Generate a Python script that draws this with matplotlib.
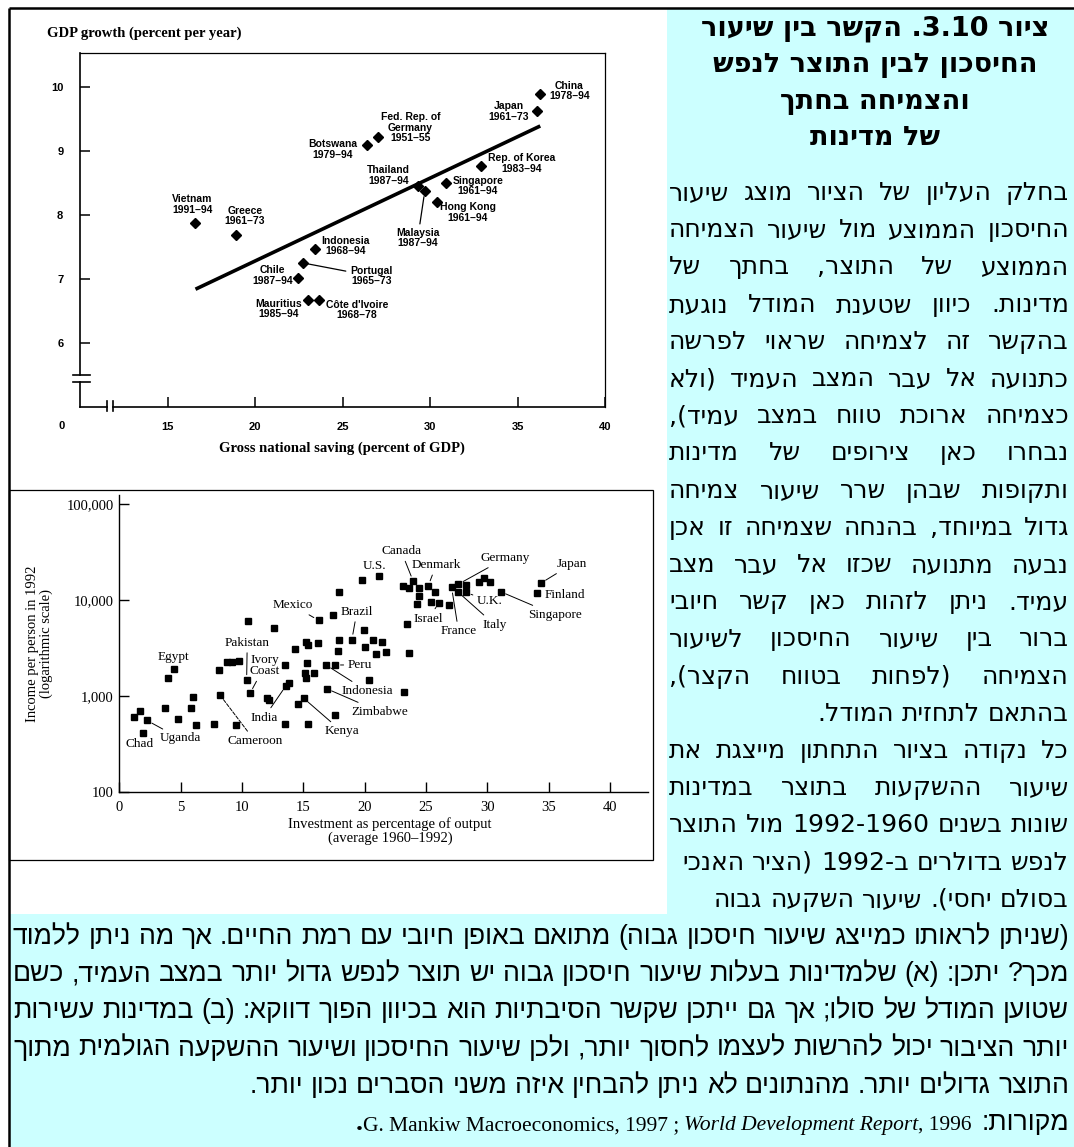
import re
import matplotlib
matplotlib.use("Agg")
import matplotlib.pyplot as plt
import matplotlib.ticker as mticker
from matplotlib.patches import Rectangle
from matplotlib.font_manager import FontProperties

# ---------------------------------------------------------------- data
# Upper chart: gross national saving (% of GDP) vs GDP growth (% per year)
saving_names = ["China\n1978–94", "Japan\n1961–73", "Fed. Rep. of\nGermany\n1951–55",
                "Botswana\n1979–94", "Thailand\n1987–94", "Malaysia\n1987–94",
                "Singapore\n1961–94", "Rep. of Korea\n1983–94", "Hong Kong\n1961–94",
                "Indonesia\n1968–94", "Portugal\n1965–73", "Chile\n1987–94",
                "Mauritius\n1985–94", "Côte d'Ivoire\n1968–78", "Vietnam\n1991–94",
                "Greece\n1961–73"]
saving_rate = [36.3, 36.1, 27.0, 26.4, 29.3, 29.7, 30.9, 32.9, 30.4,
               23.45, 22.75, 22.45, 23.0, 23.65, 16.55, 18.9]
gdp_growth = [9.89, 9.63, 9.22, 9.10, 8.46, 8.37, 8.50, 8.77, 8.21,
              7.47, 7.25, 7.02, 6.67, 6.67, 7.88, 7.69]
fit_saving = [16.6, 36.3]
fit_growth = [6.84, 9.39]
saving_xticks = [15, 20, 25, 30, 35, 40]
growth_yticks = [6, 7, 8, 9, 10]

# Lower chart: investment share (% of output, 1960-92) vs income per person 1992
named_countries = ["Chad", "Uganda", "Egypt", "Cameroon", "Pakistan", "Ivory\nCoast",
                   "India", "Kenya", "Mexico", "Brazil", "Peru", "Indonesia",
                   "Zimbabwe", "U.S.", "Canada", "Denmark", "Germany", "Japan",
                   "Finland", "U.K.", "Singapore", "Israel", "France", "Italy"]
named_invest = [1.9, 2.26, 4.43, 8.21, 10.38, 10.65, 13.59, 15.05, 16.25, 18.96,
                17.58, 16.85, 16.9, 21.19, 23.96, 25.18, 27.63, 34.37, 34.07,
                28.25, 31.08, 26.08, 27.09, 27.58]
named_income = [410, 560, 1920, 1030, 1470, 1070, 1290, 950, 6180, 3890,
                2120, 2120, 1200, 17700, 15800, 14100, 14700, 15100, 11800,
                12100, 12300, 9450, 13600, 12300]
other_invest = [1.22, 1.69, 3.72, 4.0, 4.78, 5.84, 6.03, 6.25, 7.74, 8.13, 8.75,
                9.18, 9.54, 9.78, 10.46, 12.01, 12.17, 13.8, 12.6, 13.5, 13.5,
                14.29, 14.54, 15.19, 15.41, 15.33, 15.13, 15.22, 15.87, 15.41,
                16.22, 17.44, 17.9, 17.58, 20.38, 23.23, 17.85, 17.93, 19.97,
                20.02, 20.65, 20.92, 21.41, 21.74, 23.64, 23.42, 19.75, 23.1,
                23.64, 24.43, 24.43, 24.3, 25.73, 25.4, 26.87, 28.25, 29.35,
                29.72, 30.2]
other_income = [610, 710, 760, 1540, 580, 750, 980, 500, 510, 1860, 2290,
                2290, 500, 2340, 6100, 950, 910, 1380, 5140, 510, 2130,
                3100, 830, 3710, 3390, 2200, 1740, 1560, 1740, 520,
                3560, 7040, 12300, 640, 1480, 1100, 2990, 3890, 4890,
                3240, 3890, 2760, 3640, 2880, 2800, 5620, 16200, 14200,
                13300, 13300, 11100, 9120, 12300, 9660, 8920, 14500, 15500,
                17000, 15500]
invest_xticks = [0, 5, 10, 15, 20, 25, 30, 35, 40]
income_yticks = [100, 1000, 10000, 100000]

# Hebrew caption (logical order); "J" = justified line, "R" = flush right
title_lines = ["ציור 3.10. הקשר בין שיעור", "החיסכון לבין התוצר לנפש",
               "והצמיחה בחתך", "של מדינות"]
side_lines = [
    ("בחלק העליון של הציור מוצג שיעור", "J"),
    ("החיסכון הממוצע מול שיעור הצמיחה", "J"),
    ("הממוצע של התוצר, בחתך של", "J"),
    ("מדינות. כיוון שטענת המודל נוגעת", "J"),
    ("בהקשר זה לצמיחה שראוי לפרשה", "J"),
    ("כתנועה אל עבר המצב העמיד (ולא", "J"),
    ("כצמיחה ארוכת טווח במצב עמיד),", "J"),
    ("נבחרו כאן צירופים של מדינות", "J"),
    ("ותקופות שבהן שרר שיעור צמיחה", "J"),
    ("גדול במיוחד, בהנחה שצמיחה זו אכן", "J"),
    ("נבעה מתנועה שכזו אל עבר מצב", "J"),
    ("עמיד. ניתן לזהות כאן קשר חיובי", "J"),
    ("ברור בין שיעור החיסכון לשיעור", "J"),
    ("הצמיחה (לפחות בטווח הקצר),", "J"),
    ("בהתאם לתחזית המודל.", "R"),
    ("כל נקודה בציור התחתון מייצגת את", "J"),
    ("שיעור ההשקעות בתוצר במדינות", "J"),
    ("שונות בשנים 1960-1992 מול התוצר", "J"),
    ("לנפש בדולרים ב-1992 (הציר האנכי", "R"),
    ("בסולם יחסי). שיעור השקעה גבוה", "R"),
]
bottom_lines = [
    ("(שניתן לראותו כמייצג שיעור חיסכון גבוה) מתואם באופן חיובי עם רמת החיים. אך מה ניתן ללמוד", "J"),
    ("מכך? יתכן: (א) שלמדינות בעלות שיעור חיסכון גבוה יש תוצר לנפש גדול יותר במצב העמיד, כשם", "J"),
    ("שטוען המודל של סולו; אך גם ייתכן שקשר הסיבתיות הוא בכיוון הפוך דווקא: (ב) במדינות עשירות", "J"),
    ("יותר הציבור יכול להרשות לעצמו לחסוך יותר, ולכן שיעור החיסכון ושיעור ההשקעה הגולמית מתוך", "J"),
    ("התוצר גדולים יותר. מהנתונים לא ניתן להבחין איזה משני הסברים נכון יותר.", "R"),
]
sources_label = "מקורות:"
source_parts = [(", 1996 ", "normal"), ("World Development Report", "italic"),
                ("G. Mankiw Macroeconomics, 1997 ; ", "normal")]

# ---------------------------------------------------------------- layout
W, H, DPI = 1074, 1147, 100
CYAN = "#CCFFFF"
fig = plt.figure(figsize=(W / DPI, H / DPI), dpi=DPI)
fig.patch.set_facecolor("white")


def px_rect(x0, y0, x1, y1):
    """Pixel box (top-left origin) -> figure fraction rect."""
    return [x0 / W, 1 - y1 / H, (x1 - x0) / W, (y1 - y0) / H]


bg = fig.add_axes([0, 0, 1, 1], zorder=0)
bg.set_xlim(0, W)
bg.set_ylim(H, 0)
bg.axis("off")

bg.add_patch(Rectangle((667, 9), W - 667, 905, facecolor=CYAN, edgecolor="none"))
bg.add_patch(Rectangle((9, 914), W - 9, H - 914, facecolor=CYAN, edgecolor="none"))
bg.add_patch(Rectangle((9, 490), 644, 370, facecolor="white", edgecolor="black", lw=0.9))
bg.plot([9, W], [8, 8], color="black", lw=1.8, solid_capstyle="butt")
bg.plot([9, 9], [8, H], color="black", lw=1.8, solid_capstyle="butt")

# ---------------------------------------------------------------- upper chart
lab_font = dict(family=["Liberation Sans Narrow", "Liberation Sans"], weight="bold", size=7.5)
ax1 = fig.add_axes(px_rect(80, 53, 605, 407), zorder=2)
ax1.set_facecolor("none")
ax1.set_xlim(10, 40)
ax1.set_ylim(5.0, 10.53)
for side in ("left", "bottom"):
    ax1.spines[side].set_visible(False)
for side in ("top", "right"):
    ax1.spines[side].set_linewidth(0.9)

# axis lines with scale breaks
yax = ax1.get_yaxis_transform()
xax = ax1.get_xaxis_transform()
ax1.plot([0, 0], [10.53, 5.5], transform=yax, color="black", lw=1.2, clip_on=False)
ax1.plot([0, 0], [5.39, 5.0], transform=yax, color="black", lw=1.2, clip_on=False)
for yb in (5.5, 5.39):
    ax1.plot([-0.014, 0.019], [yb, yb], transform=yax, color="black", lw=1.2, clip_on=False)
ax1.plot([10, 11.55], [0, 0], transform=xax, color="black", lw=1.2, clip_on=False)
ax1.plot([11.9, 40], [0, 0], transform=xax, color="black", lw=1.2, clip_on=False)
for xb in (11.55, 11.9):
    ax1.plot([xb, xb], [-0.012, 0.017], transform=xax, color="black", lw=1.2, clip_on=False)

ax1.set_xticks(saving_xticks)
ax1.set_yticks(growth_yticks)
ax1.tick_params(direction="in", length=7, width=1.1, pad=12)
ax1.tick_params(axis="x", pad=11)
for t in ax1.get_xticklabels() + ax1.get_yticklabels():
    t.set_fontproperties(FontProperties(**lab_font))
    t.set_fontsize(8)

ax1.plot(fit_saving, fit_growth, color="black", lw=2.6, solid_capstyle="butt")
ax1.plot(saving_rate, gdp_growth, "D", color="black", ms=5.5)

top_offsets = {
    "China\n1978–94": (29, 3), "Japan\n1961–73": (-28, -1),
    "Fed. Rep. of\nGermany\n1951–55": (33, 9), "Botswana\n1979–94": (-34, -5),
    "Thailand\n1987–94": (-29, 10), "Malaysia\n1987–94": (-7, -47),
    "Singapore\n1961–94": (32, -3), "Rep. of Korea\n1983–94": (41, 2),
    "Hong Kong\n1961–94": (31, -11), "Indonesia\n1968–94": (30, 3),
    "Portugal\n1965–73": (68, -13), "Chile\n1987–94": (-25, 2),
    "Mauritius\n1985–94": (-29, -9), "Côte d'Ivoire\n1968–78": (38, -10),
    "Vietnam\n1991–94": (-2.5, 18), "Greece\n1961–73": (9, 19),
}
top_connected = {"Malaysia\n1987–94", "Portugal\n1965–73"}
for name, xv, yv in zip(saving_names, saving_rate, gdp_growth):
    arrow = dict(arrowstyle="-", color="black", lw=0.9, shrinkA=1, shrinkB=4) \
        if name in top_connected else None
    ax1.annotate(name, (xv, yv), xytext=top_offsets[name], textcoords="offset pixels",
                 ha="center", va="center", linespacing=1.05, arrowprops=arrow, **lab_font)

bg.text(62, 426, "0", ha="center", va="center", **{**lab_font, "size": 8})
bg.text(47, 33, "GDP growth (percent per year)", ha="left", va="center",
        family="Liberation Serif", weight="bold", size=10.5)
bg.text(342, 448, "Gross national saving (percent of GDP)", ha="center", va="center",
        family="Liberation Serif", weight="bold", size=10.5)

# ---------------------------------------------------------------- lower chart
serif = dict(family="Liberation Serif", size=9.5)
ax2 = fig.add_axes(px_rect(119.3, 495, 648, 792.3), zorder=2)
ax2.set_facecolor("none")
ax2.set_yscale("log")
ax2.set_xlim(0, 43.1)
ax2.set_ylim(100, 125000)
for side in ("top", "right"):
    ax2.spines[side].set_visible(False)
for side in ("left", "bottom"):
    ax2.spines[side].set_linewidth(1.0)
ax2.set_xticks(invest_xticks)
ax2.set_yticks(income_yticks)
ax2.yaxis.set_minor_locator(mticker.NullLocator())
ax2.yaxis.set_major_formatter(mticker.FuncFormatter(lambda v, p: f"{int(v):,}"))
ax2.tick_params(direction="in", length=7, width=1.0, pad=4, labelsize=10.5)
ax2.tick_params(axis="x", pad=6)
for t in ax2.get_xticklabels() + ax2.get_yticklabels():
    t.set_family("Liberation Serif")

ax2.plot(other_invest, other_income, "s", color="black", ms=5)
ax2.plot(named_invest, named_income, "s", color="black", ms=5)

low_offsets = {
    "Chad": (-3, -11), "Uganda": (33, -18), "Egypt": (0, 12), "Cameroon": (35, -46),
    "Pakistan": (0.6, 37.6), "Ivory\nCoast": (15, 28), "India": (-22, -32),
    "Kenya": (38, -33), "Mexico": (-26, 15), "Brazil": (5, 28), "Peru": (25, 0),
    "Indonesia": (41, -26), "Zimbabwe": (53, -23), "U.S.": (-5, 10),
    "Canada": (-12, 30), "Denmark": (8, 21), "Germany": (47, 26), "Japan": (31, 19),
    "Finland": (28, -2), "U.K.": (24, -9), "Singapore": (54, -23),
    "Israel": (-11, -16), "France": (7, -44), "Italy": (37, -33),
}
unlinked = {"Chad", "Egypt", "U.S.", "Finland"}
for name, xv, yv in zip(named_countries, named_invest, named_income):
    arrow = None
    if name not in unlinked:
        arrow = dict(arrowstyle="-", color="black", lw=0.7, shrinkA=1, shrinkB=4,
                     linestyle="--" if name == "Cameroon" else "-")
    ax2.annotate(name, (xv, yv), xytext=low_offsets[name], textcoords="offset pixels",
                 ha="center", va="center", linespacing=0.95, arrowprops=arrow, **serif)

ax2.set_ylabel("Income per person in 1992\n(logarithmic scale)", family="Liberation Serif",
               size=10.5, linespacing=1.0, labelpad=10)
bg.text(390, 831, "Investment as percentage of output\n(average 1960–1992)",
        ha="center", va="center", family="Liberation Serif", size=10.5, linespacing=1.0)

# ---------------------------------------------------------------- Hebrew text
renderer = fig.canvas.get_renderer()
LTR_RUN = re.compile(r"[A-Za-z0-9](?:[A-Za-z0-9.,'’ ]*[A-Za-z0-9])?")
MIRROR = str.maketrans("()[]", ")(][")


def visual(s):
    """Reorder a right-to-left word for left-to-right glyph drawing."""
    segs, pos = [], 0
    for m in LTR_RUN.finditer(s):
        if m.start() > pos:
            segs.append(s[pos:m.start()][::-1].translate(MIRROR))
        segs.append(m.group())
        pos = m.end()
    if pos < len(s):
        segs.append(s[pos:][::-1].translate(MIRROR))
    return "".join(reversed(segs))


def width(s, fp):
    t = bg.text(0, 0, s, fontproperties=fp)
    w = t.get_window_extent(renderer).width
    t.remove()
    return w


def fit_size(lines, fp, target):
    base = fp.copy()
    base.set_size(10)
    sp = width("א א", base) - width("אא", base)
    best = 100
    for txt, mode in lines:
        if mode != "J":
            continue
        words = txt.split()
        nat = sum(width(visual(w), base) for w in words) + sp * (len(words) - 1)
        best = min(best, 10 * target / nat)
    return best


def draw_line(txt, mode, y, x0, x1, fp):
    words = txt.split()
    vis = [visual(w) for w in words]
    ws = [width(v, fp) for v in vis]
    sp = width("א א", fp) - width("אא", fp)
    gap = (x1 - x0 - sum(ws)) / (len(vis) - 1) if (mode == "J" and len(vis) > 1) else sp
    x = x1
    for v, w in zip(vis, ws):
        bg.text(x, y, v, ha="right", va="baseline", fontproperties=fp)
        x -= w + gap
    return x + gap


side_fp = FontProperties(family=["DejaVu Sans"])
side_fp.set_size(fit_size(side_lines, side_fp, 400) * 0.995)
title_fp = FontProperties(family=["DejaVu Sans"], weight="bold")
title_fp.set_size(side_fp.get_size() * 1.08)

for i, txt in enumerate(title_lines):
    words = txt.split()
    vis = " ".join(visual(w) for w in reversed(words))
    bg.text(875, 35 + 36.8 * i, vis, ha="center", va="baseline", fontproperties=title_fp)

for i, (txt, mode) in enumerate(side_lines):
    draw_line(txt, mode, 200 + 37.2 * i, 669, 1069, side_fp)

bot_fp = FontProperties(family=["Liberation Sans Narrow", "Liberation Sans", "DejaVu Sans"])
bot_fp.set_size(fit_size(bottom_lines, bot_fp, 1056) * 0.995)
base_y = 200 + 37.2 * len(side_lines)
for i, (txt, mode) in enumerate(bottom_lines):
    draw_line(txt, mode, base_y + 37.2 * i, 13, 1069, bot_fp)

# sources line, drawn right to left from mixed fonts
ys = base_y + 37.2 * len(bottom_lines)
x = 1069
t = bg.text(x, ys, visual(sources_label), ha="right", va="baseline", fontproperties=bot_fp)
x -= t.get_window_extent(renderer).width + 4
lat_w10 = sum(width(txt, FontProperties(family="Liberation Serif", style=st, size=10))
              for txt, st in source_parts)
lat_size = 10 * 615 / lat_w10
for txt, style in source_parts:
    t = bg.text(x, ys, txt, ha="right", va="baseline", family="Liberation Serif",
                style=style, size=lat_size)
    x -= t.get_window_extent(renderer).width
bg.text(x, ys, ".", ha="right", va="baseline", family="Liberation Serif",
        weight="bold", size=lat_size * 1.3)

fig.savefig("out.png", dpi=DPI, facecolor="white")
